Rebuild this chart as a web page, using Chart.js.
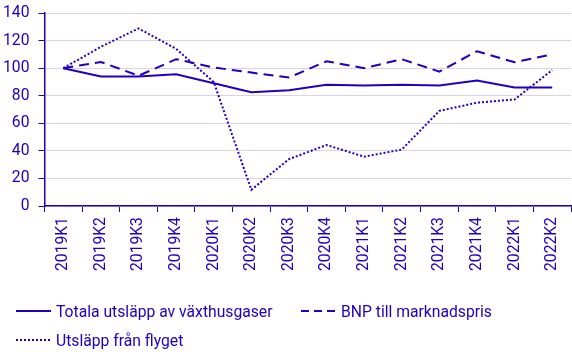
<!DOCTYPE html>
<html lang="sv">
<head>
<meta charset="utf-8">
<title>Utsläpp och BNP</title>
<script src="https://cdn.jsdelivr.net/npm/chart.js@4/dist/chart.umd.min.js"></script>
<style>
    html, body {
        margin: 0;
        padding: 0;
        background: #ffffff;
    }
    .wrap {
        position: relative;
        width: 572px;
        height: 364px;
    }
    .legend {
        position: absolute;
        left: 0;
        top: 0;
        font-family: Roboto, sans-serif;
        font-size: 15.7px;
        color: #1E00BE;
    }
    .legend-item {
        position: absolute;
        white-space: nowrap;
        display: flex;
        align-items: center;
        height: 20px;
    }
    .legend-line {
        width: 35px;
        height: 0;
        margin-right: 5px;
        border-top: 2px solid #1E00BE;
    }
    .legend-line.dashed {
        border-top: 0;
        height: 2px;
        background: repeating-linear-gradient(to right, #1E00BE 0 8px, transparent 8px 13px);
    }
    .legend-line.dotted {
        border-top: 0;
        height: 2px;
        background: repeating-linear-gradient(to right, #1E00BE 0 2px, transparent 2px 4px);
    }
</style>
</head>
<body>
<div class="wrap">
    <canvas id="chart" width="572" height="364"></canvas>
    <div class="legend">
        <div class="legend-item" style="left:16px; top:301px;"><span class="legend-line"></span>Totala utsläpp av växthusgaser</div>
        <div class="legend-item" style="left:301px; top:301px;"><span class="legend-line dashed"></span>BNP till marknadspris</div>
        <div class="legend-item" style="left:16px; top:330px;"><span class="legend-line dotted"></span>Utsläpp från flyget</div>
    </div>
</div>

<script>
// Quarters on the x axis
const quarters = ['2019K1', '2019K2', '2019K3', '2019K4', '2020K1', '2020K2', '2020K3',
    '2020K4', '2021K1', '2021K2', '2021K3', '2021K4', '2022K1', '2022K2'];

// Index, 2019K1 = 100
const totalEmissions = [100, 94, 94, 95.5, 89, 82.5, 84, 88, 87.5, 88, 87.5, 91, 86, 86];
const gdp = [100, 104.5, 94.5, 106.5, 100.5, 96.8, 93.2, 105, 100, 106.5, 97.5, 112.3, 104.3, 110];
const flightEmissions = [100, 115.5, 128.8, 114, 90, 11.8, 34, 44.3, 35.8, 41, 69, 75, 77.3, 98.6];

const yTicks = [0, 20, 40, 60, 80, 100, 120, 140];

const mainColor = '#1E00BE';
const gridColor = '#d4d4ea';
const tickFont = { family: 'Roboto', size: 15.7 };

function createDataset(label, data, dash) {
    return {
        label: label,
        data: data,
        borderColor: mainColor,
        backgroundColor: mainColor,
        borderWidth: 2,
        borderDash: dash,
        pointRadius: 0,
        pointHoverRadius: 0,
        fill: false,
        tension: 0
    };
}

function initChart() {
    const ctx = document.getElementById('chart').getContext('2d');

    new Chart(ctx, {
        type: 'line',
        data: {
            labels: quarters,
            datasets: [
                createDataset('Totala utsläpp av växthusgaser', totalEmissions, []),
                createDataset('BNP till marknadspris', gdp, [10, 6]),
                createDataset('Utsläpp från flyget', flightEmissions, [2, 2])
            ]
        },
        options: {
            responsive: false,
            animation: false,
            layout: {
                padding: { top: 13, left: 0, right: 1, bottom: 88 }
            },
            plugins: {
                legend: { display: false },
                tooltip: { enabled: false }
            },
            scales: {
                x: {
                    offset: true,
                    afterFit: function(axis) {
                        // no extra room for the rotated end labels
                        axis.paddingLeft = 0;
                        axis.paddingRight = 0;
                    },
                    grid: {
                        offset: true,
                        drawOnChartArea: false,
                        tickColor: mainColor,
                        tickLength: 6
                    },
                    border: { color: mainColor, width: 1.5 },
                    ticks: {
                        color: mainColor,
                        font: tickFont,
                        minRotation: 90,
                        maxRotation: 90,
                        padding: 5,
                        autoSkip: false
                    }
                },
                y: {
                    min: 0,
                    max: 140,
                    afterBuildTicks: function(axis) {
                        axis.ticks = yTicks.map(v => ({ value: v }));
                    },
                    afterFit: function(axis) {
                        axis.width = 44.5;
                        axis.paddingTop = 0;
                        axis.paddingBottom = 0;
                    },
                    grid: {
                        color: gridColor,
                        tickColor: mainColor,
                        tickLength: 6
                    },
                    border: { color: mainColor, width: 1.5 },
                    ticks: {
                        color: mainColor,
                        font: tickFont,
                        padding: 9
                    }
                }
            }
        }
    });
}

document.addEventListener('DOMContentLoaded', initChart);
</script>
</body>
</html>
